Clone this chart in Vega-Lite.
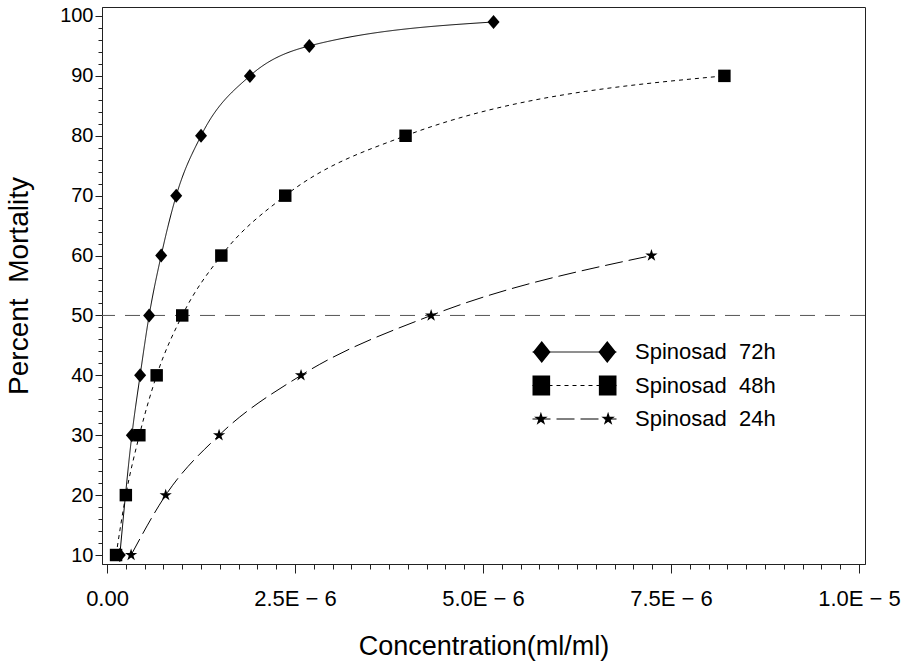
{
  "$schema": "https://vega.github.io/schema/vega-lite/v6.json",
  "width": 763,
  "height": 557,
  "autosize": {"type": "none"},
  "padding": {"left": 102, "top": 7, "right": 44, "bottom": 102},
  "background": "white",
  "config": {
    "font": "Liberation Sans",
    "view": {"stroke": "#222", "strokeWidth": 1},
    "axis": {"grid": false, "domainColor": "#222", "tickColor": "#222", "labelColor": "black", "titleColor": "black", "labelFont": "Liberation Sans", "titleFont": "Liberation Sans", "titleFontWeight": "normal"},
    "legend": {"labelFont": "Liberation Sans"}
  },
  "resolve": {"scale": {"shape": "independent"}},
  "data": {"values": [
    {"series": "72h", "conc": 1.7e-7, "mort": 10},
    {"series": "72h", "conc": 3.3e-7, "mort": 30},
    {"series": "72h", "conc": 4.4e-7, "mort": 40},
    {"series": "72h", "conc": 5.6e-7, "mort": 50},
    {"series": "72h", "conc": 7.2e-7, "mort": 60},
    {"series": "72h", "conc": 9.2e-7, "mort": 70},
    {"series": "72h", "conc": 1.25e-6, "mort": 80},
    {"series": "72h", "conc": 1.90e-6, "mort": 90},
    {"series": "72h", "conc": 2.69e-6, "mort": 95},
    {"series": "72h", "conc": 5.14e-6, "mort": 99},
    {"series": "48h", "conc": 1.2e-7, "mort": 10},
    {"series": "48h", "conc": 2.5e-7, "mort": 20},
    {"series": "48h", "conc": 4.3e-7, "mort": 30},
    {"series": "48h", "conc": 6.6e-7, "mort": 40},
    {"series": "48h", "conc": 1.00e-6, "mort": 50},
    {"series": "48h", "conc": 1.52e-6, "mort": 60},
    {"series": "48h", "conc": 2.37e-6, "mort": 70},
    {"series": "48h", "conc": 3.97e-6, "mort": 80},
    {"series": "48h", "conc": 8.21e-6, "mort": 90},
    {"series": "24h", "conc": 3.2e-7, "mort": 10},
    {"series": "24h", "conc": 7.8e-7, "mort": 20},
    {"series": "24h", "conc": 1.49e-6, "mort": 30},
    {"series": "24h", "conc": 2.58e-6, "mort": 40},
    {"series": "24h", "conc": 4.31e-6, "mort": 50},
    {"series": "24h", "conc": 7.24e-6, "mort": 60}
  ]},
  "layer": [
    {
      "data": {"values": [{"mort": 50}]},
      "mark": {"type": "rule", "color": "#555", "strokeDash": [15, 10], "strokeWidth": 1},
      "encoding": {
        "y": {"field": "mort", "type": "quantitative", "title": "Percent\u00a0 Mortality",
          "scale": {"domain": [8.5, 101.5], "nice": false, "zero": false},
          "axis": {"values": [10,12,14,16,18,20,22,24,26,28,30,32,34,36,38,40,42,44,46,48,50,52,54,56,58,60,62,64,66,68,70,72,74,76,78,80,82,84,86,88,90,92,94,96,98,100],
            "labelExpr": "datum.value % 10 == 0 ? datum.label : ''",
            "labelFontSize": 20, "labelPadding": 2, "labelOverlap": false, "labelFlush": false,
            "tickSize": {"condition": {"test": "datum.value % 10 == 0", "value": 7}, "value": 4},
            "titleFontSize": 28, "titlePadding": 26}
        }
      }
    },
    {
      "mark": {"type": "line", "interpolate": "monotone", "color": "black", "strokeWidth": 1},
      "encoding": {
        "x": {"field": "conc", "type": "quantitative", "title": "Concentration(ml/ml)",
          "scale": {"domain": [-6.7e-8, 1.008e-5], "nice": false, "zero": false},
          "axis": {"values": [0,2.5e-7,5e-7,7.5e-7,1e-6,1.25e-6,1.5e-6,1.75e-6,2e-6,2.25e-6,2.5e-6,2.75e-6,3e-6,3.25e-6,3.5e-6,3.75e-6,4e-6,4.25e-6,4.5e-6,4.75e-6,5e-6,5.25e-6,5.5e-6,5.75e-6,6e-6,6.25e-6,6.5e-6,6.75e-6,7e-6,7.25e-6,7.5e-6,7.75e-6,8e-6,8.25e-6,8.5e-6,8.75e-6,9e-6,9.25e-6,9.5e-6,9.75e-6,1e-5],
            "labelExpr": "abs(datum.value*4e5 - round(datum.value*4e5)) < 0.01 ? (datum.value == 0 ? '0.00' : replace(format(datum.value, '.1e'), 'e-', 'E \u2212 ')) : ''",
            "labelFontSize": 22, "labelPadding": 15, "labelOverlap": false, "labelFlush": false,
            "tickSize": {"condition": {"test": "abs(datum.value*4e5 - round(datum.value*4e5)) < 0.01", "value": 9}, "value": 5},
            "titleFontSize": 27, "titlePadding": 24}
        },
        "y": {"field": "mort", "type": "quantitative", "title": "Percent\u00a0 Mortality",
          "scale": {"domain": [8.5, 101.5], "nice": false, "zero": false},
          "axis": {"values": [10,12,14,16,18,20,22,24,26,28,30,32,34,36,38,40,42,44,46,48,50,52,54,56,58,60,62,64,66,68,70,72,74,76,78,80,82,84,86,88,90,92,94,96,98,100],
            "labelExpr": "datum.value % 10 == 0 ? datum.label : ''",
            "labelFontSize": 20, "labelPadding": 2, "labelOverlap": false, "labelFlush": false,
            "tickSize": {"condition": {"test": "datum.value % 10 == 0", "value": 7}, "value": 4},
            "titleFontSize": 28, "titlePadding": 26}
        },
        "strokeDash": {"field": "series", "type": "nominal", "sort": null,
          "scale": {"range": [[1, 0], [4, 4], [18, 6]]},
          "legend": {"orient": "none", "legendX": 430, "legendY": 329, "title": null, "padding": 0,
            "clipHeight": 32, "rowPadding": 1.5, "symbolSize": 7056, "symbolStrokeWidth": 1,
            "symbolStrokeColor": "black", "symbolOpacity": 1,
            "labelFontSize": 22, "labelOffset": 18, "labelExpr": "''"}},
        "order": {"field": "conc", "type": "quantitative"}
      }
    },
    {
      "mark": {"type": "point", "filled": true, "opacity": 1, "color": "black", "size": 196},
      "encoding": {
        "x": {"field": "conc", "type": "quantitative", "title": "Concentration(ml/ml)",
          "scale": {"domain": [-6.7e-8, 1.008e-5], "nice": false, "zero": false},
          "axis": {"values": [0,2.5e-7,5e-7,7.5e-7,1e-6,1.25e-6,1.5e-6,1.75e-6,2e-6,2.25e-6,2.5e-6,2.75e-6,3e-6,3.25e-6,3.5e-6,3.75e-6,4e-6,4.25e-6,4.5e-6,4.75e-6,5e-6,5.25e-6,5.5e-6,5.75e-6,6e-6,6.25e-6,6.5e-6,6.75e-6,7e-6,7.25e-6,7.5e-6,7.75e-6,8e-6,8.25e-6,8.5e-6,8.75e-6,9e-6,9.25e-6,9.5e-6,9.75e-6,1e-5],
            "labelExpr": "abs(datum.value*4e5 - round(datum.value*4e5)) < 0.01 ? (datum.value == 0 ? '0.00' : replace(format(datum.value, '.1e'), 'e-', 'E \u2212 ')) : ''",
            "labelFontSize": 22, "labelPadding": 15, "labelOverlap": false, "labelFlush": false,
            "tickSize": {"condition": {"test": "abs(datum.value*4e5 - round(datum.value*4e5)) < 0.01", "value": 9}, "value": 5},
            "titleFontSize": 27, "titlePadding": 24}
        },
        "y": {"field": "mort", "type": "quantitative", "title": "Percent\u00a0 Mortality",
          "scale": {"domain": [8.5, 101.5], "nice": false, "zero": false},
          "axis": {"values": [10,12,14,16,18,20,22,24,26,28,30,32,34,36,38,40,42,44,46,48,50,52,54,56,58,60,62,64,66,68,70,72,74,76,78,80,82,84,86,88,90,92,94,96,98,100],
            "labelExpr": "datum.value % 10 == 0 ? datum.label : ''",
            "labelFontSize": 20, "labelPadding": 2, "labelOverlap": false, "labelFlush": false,
            "tickSize": {"condition": {"test": "datum.value % 10 == 0", "value": 7}, "value": 4},
            "titleFontSize": 28, "titlePadding": 26}
        },
        "shape": {"field": "series", "type": "nominal", "legend": null,
          "scale": {"domain": ["72h", "48h", "24h"],
            "range": ["M-0.857,0L0,-1L0.857,0L0,1Z", "M-0.89,-0.89H0.89V0.89H-0.89Z", "M0,-0.92L0.207,-0.284L0.875,-0.284L0.334,0.109L0.541,0.744L0,0.352L-0.541,0.744L-0.334,0.109L-0.875,-0.284L-0.207,-0.284Z"]}
        }
      }
    },
    {
      "transform": [{"filter": "datum.mort > 1000"}],
      "mark": {"type": "point", "filled": true, "opacity": 1, "color": "black"},
      "encoding": {
        "shape": {"field": "series", "type": "nominal",
          "scale": {"domain": ["72h", "48h", "24h"],
            "range": [
              "M-0.99,0L-0.78,-0.26L-0.57,0L-0.78,0.26ZM0.57,0L0.78,-0.26L0.99,0L0.78,0.26Z",
              "M-1,-0.238L-0.58,-0.238L-0.58,0.238L-1,0.238ZM0.58,-0.238L1,-0.238L1,0.238L0.58,0.238Z",
              "M-0.8,-0.17L-0.7618,-0.0526L-0.6383,-0.0525L-0.7382,0.0201L-0.7,0.1375L-0.8,0.065L-0.9,0.1375L-0.8618,0.0201L-0.9617,-0.0525L-0.8382,-0.0526ZM0.8,-0.17L0.8382,-0.0526L0.9617,-0.0525L0.8618,0.0201L0.9,0.1375L0.8,0.065L0.7,0.1375L0.7382,0.0201L0.6383,-0.0525L0.7618,-0.0526Z"
            ]},
          "legend": {"orient": "none", "legendX": 430, "legendY": 329, "title": null, "padding": 0,
            "clipHeight": 32, "rowPadding": 1.5, "symbolSize": 7056, "symbolStrokeWidth": 1,
            "symbolFillColor": "black", "symbolOpacity": 1,
            "labelFontSize": 22, "labelOffset": 18, "labelColor": "black",
            "labelExpr": "'Spinosad\u00a0 ' + datum.label"
          }
        }
      }
    }
  ]
}
